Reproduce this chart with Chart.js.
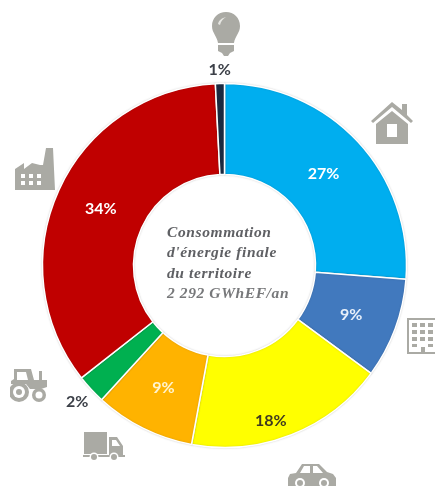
<!DOCTYPE html>
<html>
<head>
<meta charset="utf-8">
<script src="https://cdn.jsdelivr.net/npm/chart.js@4"></script>
<style>
  html, body { margin: 0; padding: 0; background: #fff; }
  #wrap { position: relative; width: 435px; height: 486px; overflow: hidden; }
  canvas { position: absolute; left: 0; top: 0; }
  svg { position: absolute; fill: #aaaaa4; }
  #centre {
    position: absolute; left: 167px; top: 222px; white-space: nowrap;
    font: italic bold 15.5px/20.3px "Liberation Serif", serif; color: #5f6064; letter-spacing: 0.6px;
  }
  #centre .total { color: #77787a; }
</style>
</head>
<body>
<div id="wrap">
  <canvas id="chart" width="435" height="486"></canvas>

  <!-- bulb -->
  <svg style="left:212px;top:12px" width="28" height="44" viewBox="0 0 28 44">
    <path d="M14 0C6 0 0 6 0 14c0 7 5 10 6 17h16c1-7 6-10 6-17C28 6 22 0 14 0z"/>
    <path d="M6 33h16v6l-4 2-2 3h-4l-2-3-4-2z"/>
    <path d="M6 12c1-4 4-6 8-7-3 2-5 4-6 8z" fill="#e6e6e2"/>
  </svg>
  <!-- house -->
  <svg style="left:371px;top:102px" width="42" height="42" viewBox="0 0 42 42">
    <path d="M21 0L31 8V2h5v11l6 6-2 2L21 5 2 21l-2-2z"/>
    <path fill-rule="evenodd" d="M21 9l16 13v20H5V22zM16 22v13h10V22z"/>
  </svg>
  <!-- building -->
  <svg style="left:407px;top:318px" width="28" height="36" viewBox="0 0 28 36">
    <path fill-rule="evenodd" d="M0 0h30v36H0zM2 2v32h12v-5h4v5h12V2z"/>
    <path d="M5 5h5v4H5zM13 5h5v4h-5zM21 5h5v4h-5zM5 12h5v4H5zM13 12h5v4h-5zM21 12h5v4h-5zM5 19h5v4H5zM13 19h5v4h-5zM21 19h5v4h-5zM5 26h5v3H5zM21 26h5v3h-5z"/>
  </svg>
  <!-- car -->
  <svg style="left:288px;top:463px" width="48" height="23" viewBox="0 0 48 23">
    <path fill-rule="evenodd" d="M8 10L14 1h17l8 8 6 2 3 4v8H0v-8l2-4zM16 3l-4 7h10V3zM25 3v7h10l-6-7z"/>
    <circle cx="12" cy="20" r="5" fill="#fff"/><circle cx="12" cy="20" r="3"/>
    <circle cx="36" cy="20" r="5" fill="#fff"/><circle cx="36" cy="20" r="3"/>
  </svg>
  <!-- truck -->
  <svg style="left:83px;top:432px" width="42" height="30" viewBox="0 0 42 30">
    <path d="M1 0h23v22H1z"/>
    <path fill-rule="evenodd" d="M26 5h8l6 9v9H26zM29 8v6h8l-4-6z"/>
    <path d="M0 23h42v2H0z"/>
    <circle cx="11" cy="25" r="4.5" fill="#fff"/><circle cx="11" cy="25" r="3"/>
    <circle cx="31" cy="25" r="4.5" fill="#fff"/><circle cx="31" cy="25" r="3"/>
  </svg>
  <!-- tractor -->
  <svg style="left:10px;top:369px" width="37" height="34" viewBox="0 0 37 34">
    <path fill-rule="evenodd" d="M4 0h17l3 11h5V2h3v9h5v7l-6 2H20l-4-5H1v-3l3-2zM7 3v8h11l-2-8z"/>
    <circle cx="9" cy="23" r="10"/><circle cx="9" cy="23" r="6" fill="#fff"/><circle cx="9" cy="23" r="3"/>
    <circle cx="29" cy="26" r="7"/><circle cx="29" cy="26" r="3.5" fill="#fff"/>
  </svg>
  <!-- factory -->
  <svg style="left:15px;top:148px" width="40" height="42" viewBox="0 0 40 42">
    <path fill-rule="evenodd" d="M31 0h7l2 42H0V21l9-6v6l8-6 8 2 3 0zM6 26v4h4v-4zM14 26v4h4v-4zM22 26v4h4v-4zM6 33v4h4v-4zM14 33v4h4v-4zM22 33v4h4v-4z"/>
  </svg>

  <div id="centre">Consommation<br>d'énergie finale<br>du territoire<br><span class="total">2 292 GWhEF/an</span></div>
</div>

<script>
// sectors clockwise from the top, arc shares
const categories = ['Résidentiel', 'Tertiaire', 'Transport de personnes', 'Transport de marchandises', 'Agriculture', 'Industrie', 'Autres'];
const shares = [26.2, 8.9, 17.8, 8.9, 2.6, 34.8, 0.8];
const printedLabels = ['27%', '9%', '18%', '9%', '2%', '34%', '1%'];
const sliceColors = ['#00aeef', '#4179be', '#ffff00', '#ffb300', '#00b050', '#c00000', '#1b2a41'];

const labelColors = ['#ffffff', '#e8f0fa', '#3f3a20', '#fff4d0', '#3c4048', '#ffffff', '#3c4048'];
const labelRadius = [135, 136, 162, 137, 201, 136, 196];
const labelTurn = [0, 1, 5, 0, 0, 0, 0]; // degrees, some labels sit off-centre

const sliceLabels = {
  id: 'sliceLabels',
  beforeDatasetsDraw(chart) {
    // soft edge round the ring
    chart.ctx.save();
    chart.ctx.shadowColor = 'rgba(60,60,60,0.2)';
    chart.ctx.shadowBlur = 2;
  },
  afterDatasetsDraw(chart) {
    const { ctx } = chart;
    ctx.restore();
    const arcs = chart.getDatasetMeta(0).data;
    ctx.save();
    ctx.font = 'bold 16px Lato, sans-serif';
    ctx.textAlign = 'center';
    ctx.textBaseline = 'middle';
    arcs.forEach((arc, i) => {
      const mid = (arc.startAngle + arc.endAngle) / 2 + labelTurn[i] * Math.PI / 180;
      ctx.fillStyle = labelColors[i];
      ctx.fillText(printedLabels[i], arc.x + Math.cos(mid) * labelRadius[i], arc.y + Math.sin(mid) * labelRadius[i]);
    });
    ctx.restore();
  }
};

new Chart(document.getElementById('chart'), {
  type: 'doughnut',
  data: {
    labels: categories,
    datasets: [{
      data: shares,
      backgroundColor: sliceColors,
      borderColor: '#ffffff',
      borderWidth: 1.5
    }]
  },
  options: {
    responsive: false,
    animation: false,
    radius: 182,
    cutout: '50%',
    layout: { padding: { left: 14, right: 0, top: 45, bottom: 0 } },
    plugins: {
      legend: { display: false },
      tooltip: { enabled: false }
    }
  },
  plugins: [sliceLabels]
});
</script>
</body>
</html>
